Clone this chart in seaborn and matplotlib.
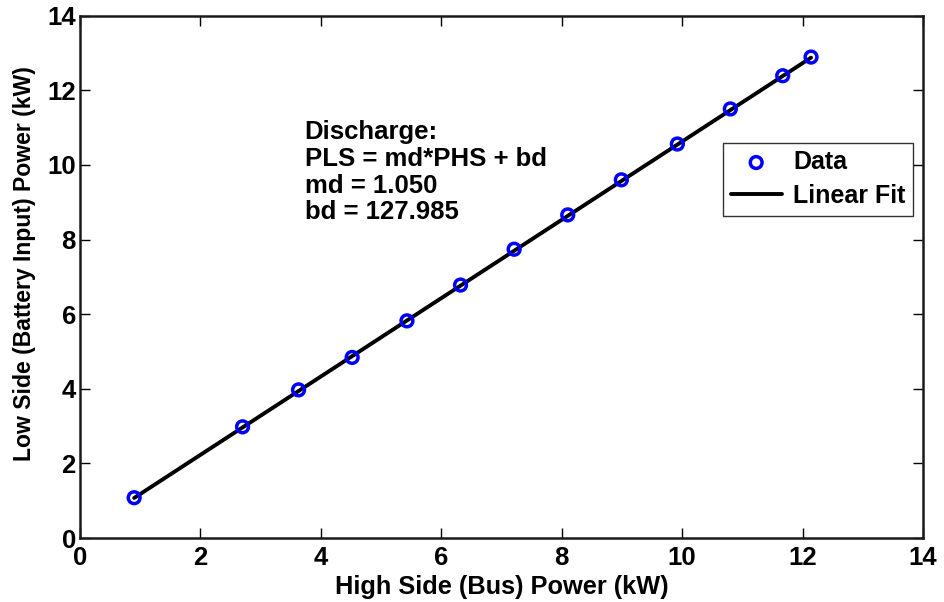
import numpy as np
import pandas as pd
import matplotlib
matplotlib.use("Agg")
import matplotlib.pyplot as plt
import seaborn as sns

# Measured discharge operating points (kW)
high_side_kw = [0.90, 2.70, 3.63, 4.52, 5.43, 6.32, 7.21, 8.10, 8.99, 9.92, 10.80, 11.67, 12.14]
low_side_kw = [1.08, 2.98, 3.97, 4.84, 5.82, 6.78, 7.74, 8.66, 9.60, 10.56, 11.50, 12.39, 12.89]

# Linear fit coefficients: PLS = md*PHS + bd  (bd in W)
md = 1.050
bd = 127.985

x_ticks = [0, 2, 4, 6, 8, 10, 12, 14]
y_ticks = [0, 2, 4, 6, 8, 10, 12, 14]

sns.set_theme(style="white")
plt.rcParams["font.family"] = ["Liberation Sans", "DejaVu Sans"]
plt.rcParams["font.weight"] = "bold"
plt.rcParams["text.color"] = "black"
plt.rcParams["axes.labelcolor"] = "black"
plt.rcParams["xtick.color"] = "black"
plt.rcParams["ytick.color"] = "black"

data = pd.DataFrame({"PHS": high_side_kw, "PLS": low_side_kw})
fit_x = np.array([min(high_side_kw), max(high_side_kw)])
fit = pd.DataFrame({"PHS": fit_x, "PLS": md * fit_x + bd / 1000.0})

fig = plt.figure(figsize=(9.44, 6.02), dpi=100)
ax = fig.add_axes([0.0847, 0.1063, 0.8931, 0.8677])

sns.scatterplot(data=data, x="PHS", y="PLS", ax=ax, marker="o", s=72,
                facecolors="none", edgecolor="#0000ff", linewidth=2.5,
                label="Data", zorder=3)
sns.lineplot(data=fit, x="PHS", y="PLS", ax=ax, color="black", linewidth=2.8,
             label="Linear Fit", zorder=2)

ax.set_xlim(0, 14)
ax.set_ylim(0, 14)
ax.set_xticks(x_ticks)
ax.set_yticks(y_ticks)
ax.set_xticklabels([str(t) for t in x_ticks], fontsize=18.5, fontweight="bold")
ax.set_yticklabels([str(t) for t in y_ticks], fontsize=18.5, fontweight="bold")
ax.tick_params(axis="both", direction="in", length=7, width=1.0,
               top=True, right=True, bottom=True, left=True)
ax.tick_params(axis="x", pad=6)
ax.tick_params(axis="y", pad=3)
for s in ax.spines.values():
    s.set_visible(True)
    s.set_linewidth(1.8)
    s.set_color("#1a1a1a")

ax.set_xlabel("High Side (Bus) Power (kW)", fontsize=18.3, fontweight="bold", labelpad=3)
ax.set_ylabel("Low Side (Battery Input) Power (kW)", fontsize=16.6, fontweight="bold")
ax.yaxis.set_label_coords(-0.052, 0.525)

ax.text(3.73, 11.19,
        "Discharge:\nPLS = md*PHS + bd\nmd = %.3f\nbd = %.3f" % (md, bd),
        fontsize=18.5, fontweight="bold", va="top", ha="left", linespacing=1.14)

leg = ax.legend(loc="upper right", bbox_to_anchor=(0.988, 0.757), fontsize=18,
                frameon=True, fancybox=False, edgecolor="black",
                borderpad=0.3, handlelength=2.05, handletextpad=0.45,
                labelspacing=0.4, borderaxespad=0.0)
leg.get_frame().set_linewidth(1.0)
for t in leg.get_texts():
    t.set_fontweight("bold")

fig.savefig("out.png", dpi=100)
